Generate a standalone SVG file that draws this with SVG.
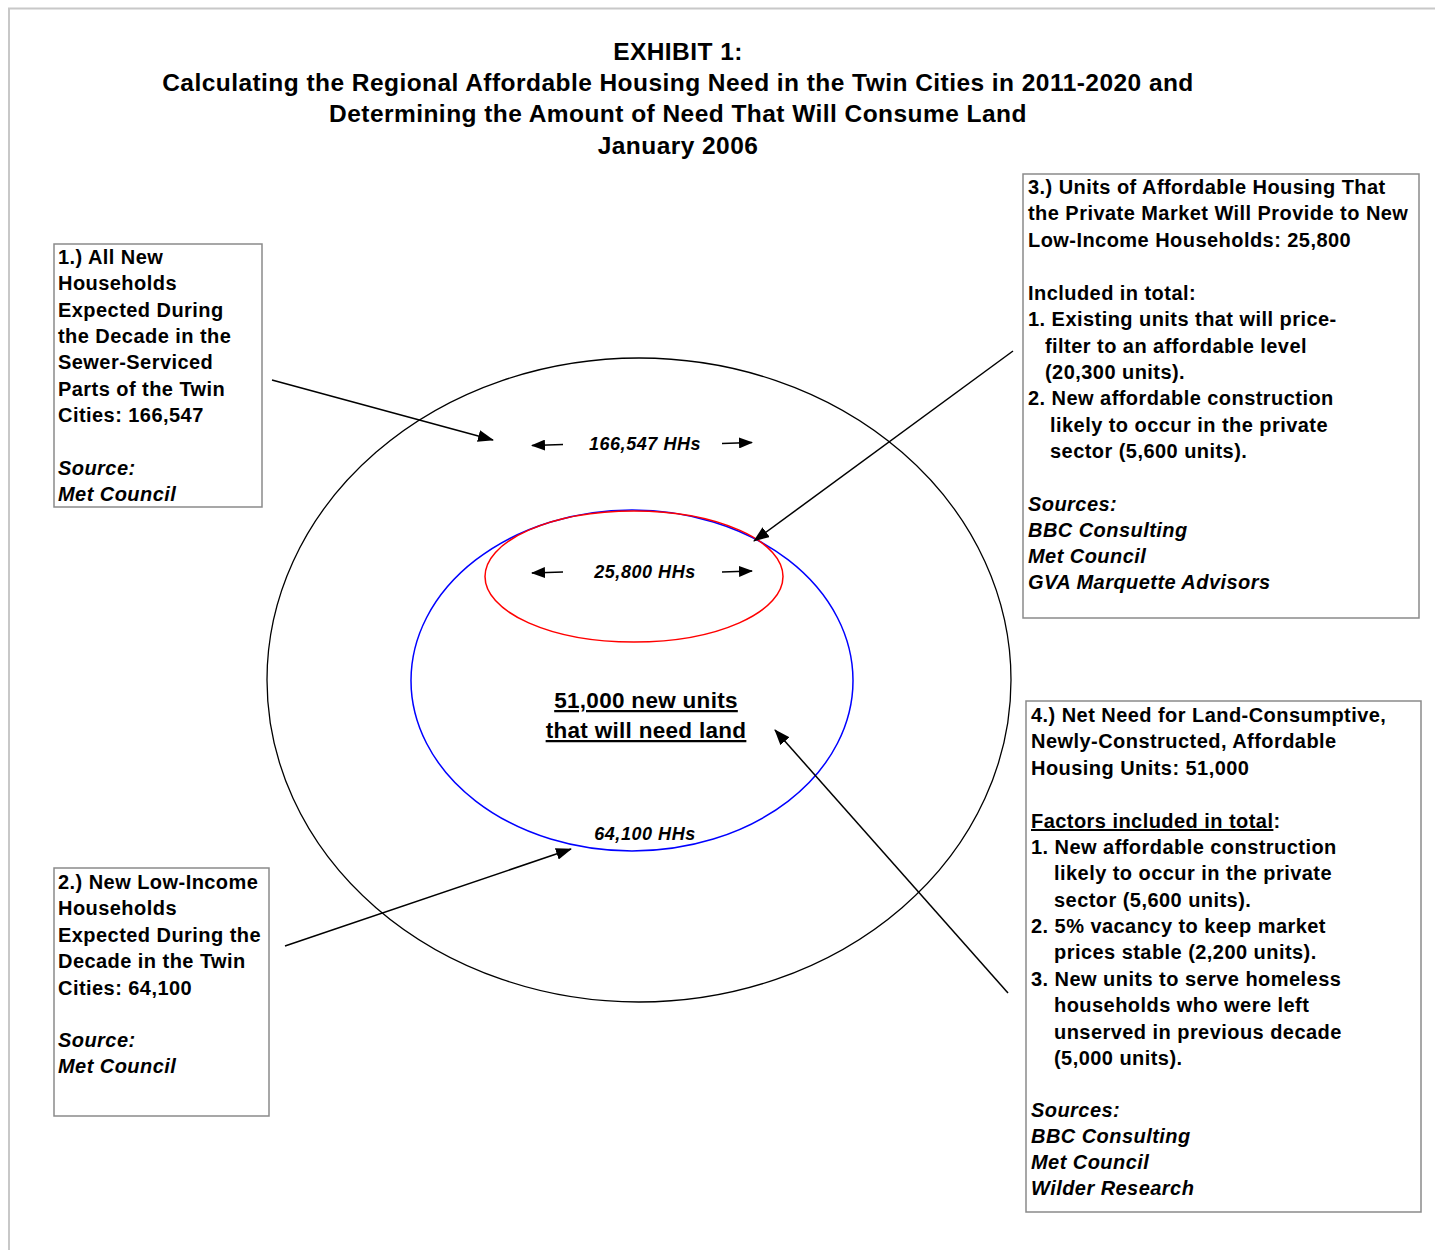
<svg xmlns="http://www.w3.org/2000/svg" width="1435" height="1250" viewBox="0 0 1435 1250">
<defs>
<style>
text{font-family:"Liberation Sans",Arial,sans-serif;font-weight:bold;fill:#000}
.t{font-size:24.5px;letter-spacing:0.45px}
.b{font-size:20px;letter-spacing:0.45px}
.i{font-style:italic}
.hh{font-size:18px;font-style:italic;letter-spacing:0.55px}
.c{font-size:22.5px;text-decoration:underline;letter-spacing:0.3px}
.box{fill:#fff;stroke:#8a8a8a;stroke-width:1.5}
.con{stroke:#000;stroke-width:1.5;fill:none}
</style>
<marker id="ah" markerWidth="16" markerHeight="12" refX="15" refY="6" orient="auto" markerUnits="userSpaceOnUse">
<path d="M0,0 L16,6 L0,12 z" fill="#000"/>
</marker>
<marker id="ahs" markerWidth="14" markerHeight="11" refX="13" refY="5.5" orient="auto" markerUnits="userSpaceOnUse">
<path d="M0,0 L14,5.5 L0,11 z" fill="#000"/>
</marker>
</defs>
<rect width="1435" height="1250" fill="#fff"/>
<path d="M9,1250 L9,8.5 L1435,8.5" fill="none" stroke="#c8c8c8" stroke-width="2"/>

<g id="title" text-anchor="middle">
<text class="t" x="678" y="60">EXHIBIT 1:</text>
<text class="t" x="678" y="91">Calculating the Regional Affordable Housing Need in the Twin Cities in 2011-2020 and</text>
<text class="t" x="678" y="122">Determining the Amount of Need That Will Consume Land</text>
<text class="t" x="678" y="154">January 2006</text>
</g>

<g id="outer-ellipse">
<ellipse cx="639" cy="680" rx="372" ry="322" fill="none" stroke="#000" stroke-width="1.3"/>
<text class="hh" x="645" y="450" text-anchor="middle">166,547 HHs</text>
</g>
<g id="blue-ellipse">
<ellipse cx="632" cy="680.5" rx="221" ry="170.5" fill="none" stroke="#0000ff" stroke-width="1.5"/>
<text class="hh" x="645" y="840" text-anchor="middle">64,100 HHs</text>
</g>
<g id="red-ellipse">
<ellipse cx="634" cy="576.5" rx="149" ry="65.5" fill="none" stroke="#ff0000" stroke-width="1.5"/>
<text class="hh" x="645" y="578" text-anchor="middle">25,800 HHs</text>
</g>
<g id="center-label" text-anchor="middle">
<text class="c" x="646" y="708">51,000 new units</text>
<text class="c" x="646" y="738">that will need land</text>
</g>

<g id="box1">
<rect class="box" x="54" y="244" width="208" height="263"/>
<text class="b" x="58" y="264">1.) All New</text>
<text class="b" x="58" y="290">Households</text>
<text class="b" x="58" y="317">Expected During</text>
<text class="b" x="58" y="343">the Decade in the</text>
<text class="b" x="58" y="369">Sewer-Serviced</text>
<text class="b" x="58" y="396">Parts of the Twin</text>
<text class="b" x="58" y="422">Cities: 166,547</text>
<text class="b i" x="58" y="475">Source:</text>
<text class="b i" x="58" y="501">Met Council</text>
</g>

<g id="box2">
<rect class="box" x="54" y="868" width="215" height="248"/>
<text class="b" x="58" y="889">2.) New Low-Income</text>
<text class="b" x="58" y="915">Households</text>
<text class="b" x="58" y="942">Expected During the</text>
<text class="b" x="58" y="968">Decade in the Twin</text>
<text class="b" x="58" y="995">Cities: 64,100</text>
<text class="b i" x="58" y="1047">Source:</text>
<text class="b i" x="58" y="1073">Met Council</text>
</g>

<g id="box3">
<rect class="box" x="1023" y="174" width="396" height="444"/>
<text class="b" x="1028" y="194">3.) Units of Affordable Housing That</text>
<text class="b" x="1028" y="220">the Private Market Will Provide to New</text>
<text class="b" x="1028" y="247">Low-Income Households: 25,800</text>
<text class="b" x="1028" y="300">Included in total:</text>
<text class="b" x="1028" y="326">1. Existing units that will price-</text>
<text class="b" x="1045" y="353">filter to an affordable level</text>
<text class="b" x="1045" y="379">(20,300 units).</text>
<text class="b" x="1028" y="405">2. New affordable construction</text>
<text class="b" x="1050" y="432">likely to occur in the private</text>
<text class="b" x="1050" y="458">sector (5,600 units).</text>
<text class="b i" x="1028" y="511">Sources:</text>
<text class="b i" x="1028" y="537">BBC Consulting</text>
<text class="b i" x="1028" y="563">Met Council</text>
<text class="b i" x="1028" y="589">GVA Marquette Advisors</text>
</g>

<g id="box4">
<rect class="box" x="1026" y="701" width="395" height="511"/>
<text class="b" x="1031" y="722">4.) Net Need for Land-Consumptive,</text>
<text class="b" x="1031" y="748">Newly-Constructed, Affordable</text>
<text class="b" x="1031" y="775">Housing Units: 51,000</text>
<text class="b" x="1031" y="828"><tspan text-decoration="underline">Factors included in total</tspan>:</text>
<text class="b" x="1031" y="854">1. New affordable construction</text>
<text class="b" x="1054" y="880">likely to occur in the private</text>
<text class="b" x="1054" y="907">sector (5,600 units).</text>
<text class="b" x="1031" y="933">2. 5% vacancy to keep market</text>
<text class="b" x="1054" y="959">prices stable (2,200 units).</text>
<text class="b" x="1031" y="986">3. New units to serve homeless</text>
<text class="b" x="1054" y="1012">households who were left</text>
<text class="b" x="1054" y="1039">unserved in previous decade</text>
<text class="b" x="1054" y="1065">(5,000 units).</text>
<text class="b i" x="1031" y="1117">Sources:</text>
<text class="b i" x="1031" y="1143">BBC Consulting</text>
<text class="b i" x="1031" y="1169">Met Council</text>
<text class="b i" x="1031" y="1195">Wilder Research</text>
</g>

<g id="connectors">
<line class="con" x1="272" y1="380" x2="493" y2="440" marker-end="url(#ah)"/>
<line class="con" x1="1013" y1="351" x2="754" y2="541" marker-end="url(#ah)"/>
<line class="con" x1="285" y1="946" x2="571" y2="849" marker-end="url(#ah)"/>
<line class="con" x1="1008" y1="993" x2="775" y2="730" marker-end="url(#ah)"/>
<line class="con" x1="563" y1="444.5" x2="532" y2="445.5" marker-end="url(#ahs)"/>
<line class="con" x1="722" y1="443.5" x2="752" y2="442.5" marker-end="url(#ahs)"/>
<line class="con" x1="563" y1="572" x2="532" y2="573" marker-end="url(#ahs)"/>
<line class="con" x1="722" y1="572" x2="752" y2="571" marker-end="url(#ahs)"/>
</g>
</svg>
